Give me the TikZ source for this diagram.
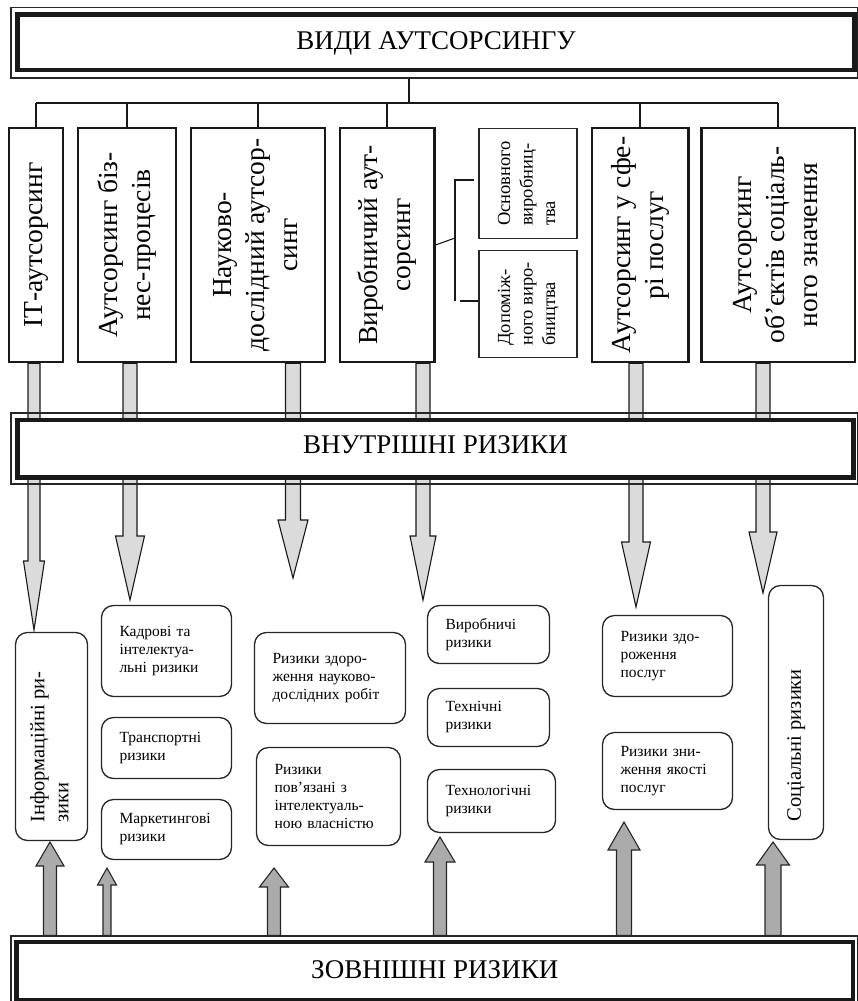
\documentclass[tikz,border=0pt]{standalone}
\usepackage{fontspec}
\setmainfont{Liberation Serif}
\usepackage{graphicx}
\usetikzlibrary{calc}
\pgfdeclarelayer{back}
\pgfsetlayers{back,main}
\newcommand\vtc[1]{\rotatebox{90}{\begin{tabular}{@{}c@{}}#1\end{tabular}}}
\newcommand\vtl[1]{\rotatebox{90}{\begin{tabular}{@{}l@{}}#1\end{tabular}}}
\newcommand\vmp[2]{\rotatebox{90}{\begin{minipage}{#1}\raggedright\strut #2\strut\end{minipage}}}
\newcommand\fatdown[5]{%
  \draw[downarr] let \p1=(#1), \p2=(#2) in
   (\x2-#4,\y1) -- (\x2-#4,\y2+#3) -- (\x2-#5,\y2+#3) -- (\x2,\y2) --
   (\x2+#5,\y2+#3) -- (\x2+#4,\y2+#3) -- (\x2+#4,\y1) -- cycle;}
\newcommand\fatup[5]{%
  \draw[uparr] let \p1=(#1), \p2=(#2) in
   (\x2-#4,\y1) -- (\x2-#4,\y2-#3) -- (\x2-#5,\y2-#3) -- (\x2,\y2) --
   (\x2+#5,\y2-#3) -- (\x2+#4,\y2-#3) -- (\x2+#4,\y1) -- cycle;}
\begin{document}
\begin{tikzpicture}[x=1pt,y=-1pt,
  thickbox/.style={draw=black!90, line width=4.5pt, fill=white, inner sep=0pt,
     font=\fontsize{27}{31}\selectfont, text height=18pt},
  thinframe/.style={draw=black!85, line width=1.2pt, inner sep=0pt},
  typebox/.style={draw=black!90, line width=2.5pt, fill=white, inner sep=0pt,
     font=\fontsize{27.5}{33}\selectfont},
  subbox/.style={draw=black!85, line width=1.5pt, fill=white, inner sep=0pt,
     font=\fontsize{18.5}{22.5}\selectfont},
  riskbox/.style={draw=black!85, line width=1.3pt, rounded corners=12pt, fill=white,
     inner xsep=18pt, inner ysep=0pt, align=left, font=\fontsize{15.5}{18}\selectfont},
  vriskbox/.style={draw=black!85, line width=1.3pt, rounded corners=12pt, fill=white,
     inner sep=0pt, font=\fontsize{20.5}{24}\selectfont},
  tree/.style={draw=black!90, line width=1.1pt},
  downarr/.style={draw=black!90, line width=1.1pt, fill=gray!28, line join=miter},
  uparr/.style={draw=black!85, line width=1.1pt, fill=gray!66, line join=miter}
]
\useasboundingbox (0,0) rectangle (858,1001);

% ---- title
\node[thinframe, minimum width=846.5, minimum height=70.5] (titleF) at (434.25,42.75) {};
\node[thickbox, minimum width=837, minimum height=55.5, text depth=4pt] (title) at (436,42.25) {ВИДИ АУТСОРСИНГУ};

% ---- types of outsourcing
\node[typebox, minimum width=54,   minimum height=234] (tIT) at (36,245)  {\vtc{ІТ-аутсорсинг}};
\node[typebox, minimum width=98,   minimum height=234] (tBP) at (127,245) {\vtc{Аутсорсинг біз-\\нес-процесів}};
\node[typebox, minimum width=134,  minimum height=234] (tND) at (258,245) {\vtc{Науково-\\дослідний аутсор-\\синг}};
\node[typebox, minimum width=94.5, minimum height=234] (tVY) at (387,245) {\vtc{Виробничий аут-\\сорсинг}};
\node[typebox, minimum width=96.5, minimum height=234] (tSF) at (640,245) {\vtc{Аутсорсинг у сфе-\\рі послуг}};
\node[typebox, minimum width=153.5,minimum height=234] (tSO) at (778,245) {\vtc{Аутсорсинг\\об’єктів соціаль-\\ного значення}};

\node[subbox, minimum width=98, minimum height=110] (sOS) at (528,183.5) {\vtl{Основного\\виробниц-\\тва}};
\node[subbox, minimum width=98, minimum height=107] (sDP) at (528,304)   {\vtl{Допоміж-\\ного виро-\\бництва}};

% ---- tree from the title
\coordinate (tj) at (409,103);
\draw[tree] (tj |- titleF.south) -- (tj);
\draw[tree] (tIT.north |- tj) -- (tSO.north |- tj);
\foreach \n in {tIT,tBP,tND,tVY,tSF,tSO} \draw[tree] (\n.north |- tj) -- (\n.north);

% ---- bracket to the sub-boxes
\coordinate (bs) at (434.5,245);
\coordinate (bk) at (455,238);
\coordinate (bt) at (455,180);
\coordinate (bb) at (455,301);
\coordinate (bte) at (474,180);
\coordinate (bbs) at (460,301);
\draw[tree] (tVY.east |- bs) -- (bk);
\draw[tree] (bte) -- (bt) -- (bb);
\draw[tree] (bbs) -- (sDP.west |- bbs);

% ---- arrow tips
\coordinate (dIT) at (34,630);
\coordinate (dBP) at (130,600);
\coordinate (dND) at (293,578);
\coordinate (dVY) at (423,600);
\coordinate (dSF) at (636,607);
\coordinate (dSO) at (763,593);
\coordinate (uIT) at (50,842);
\coordinate (uBP) at (107,868);
\coordinate (uND) at (274,868);
\coordinate (uVY) at (440,837);
\coordinate (uSF) at (624,822);
\coordinate (uSO) at (773,842);

% ---- internal risks
\node[thinframe, minimum width=846.5, minimum height=71] (midF) at (434.25,448.5) {};
\node[thickbox, minimum width=836, minimum height=57.5, text depth=9.5pt] (mid) at (435.5,448.75) {ВНУТРІШНІ РИЗИКИ};

% ---- risk boxes
\node[vriskbox, minimum width=72, minimum height=208] (rIN) at (51.5,736.5) {\vmp{172pt}{Інформаційні ри-\\зики}};
\node[riskbox, text width=94,  minimum height=91] (rKA) at (166.5,651)   {Кадрові та\\інтелектуа-\\льні ризики};
\node[riskbox, text width=94,  minimum height=61] (rTR) at (166.5,748)   {Транспортні\\ризики};
\node[riskbox, text width=94,  minimum height=60] (rMA) at (166.5,829.5) {Маркетингові\\ризики};
\node[riskbox, text width=115, minimum height=91] (rZN) at (330,678)     {Ризики здоро-\\ження науково-\\дослідних робіт};
\node[riskbox, text width=108, minimum height=98] (rPO) at (328.5,796.5) {Ризики\\пов’язані з\\інтелектуаль-\\ною власністю};
\node[riskbox, text width=86,  minimum height=58] (rVY) at (488.5,634.5) {Виробничі\\ризики};
\node[riskbox, text width=86,  minimum height=58] (rTE) at (488.5,717.5) {Технічні\\ризики};
\node[riskbox, text width=92,  minimum height=63] (rTL) at (491.5,801)   {Технологічні\\ризики};
\node[riskbox, text width=94,  minimum height=81] (rZP) at (667.5,656)   {Ризики здо-\\роження\\послуг};
\node[riskbox, text width=94,  minimum height=77] (rZY) at (667.5,771)   {Ризики зни-\\ження якості\\послуг};
\node[vriskbox, minimum width=55, minimum height=254] (rSO) at (796,712.5) {\vmp{218pt}{Соціальні ризики}};

% ---- external risks
\node[thinframe, minimum width=846.5, minimum height=74] (botF) at (434.25,973) {};
\node[thickbox, minimum width=836.5, minimum height=58, text depth=4pt] (bot) at (434.75,971) {ЗОВНІШНІ РИЗИКИ};

% ---- arrows
\begin{pgfonlayer}{back}
\fatdown{dIT |- tIT.south}{dIT}{69pt}{6pt}{10.5pt}
\fatdown{dBP |- tBP.south}{dBP}{64pt}{7pt}{14.5pt}
\fatdown{dND |- tND.south}{dND}{58pt}{7.5pt}{15pt}
\fatdown{dVY |- tVY.south}{dVY}{64pt}{7pt}{13pt}
\fatdown{dSF |- tSF.south}{dSF}{65pt}{7pt}{14.5pt}
\fatdown{dSO |- tSO.south}{dSO}{61pt}{7pt}{14pt}
\fatup{uIT |- botF.north}{uIT}{24pt}{6.5pt}{14pt}
\fatup{uBP |- botF.north}{uBP}{17pt}{4pt}{9.5pt}
\fatup{uND |- botF.north}{uND}{19pt}{6.5pt}{14.5pt}
\fatup{uVY |- botF.north}{uVY}{25pt}{6.5pt}{15pt}
\fatup{uSF |- botF.north}{uSF}{28pt}{7.5pt}{16pt}
\fatup{uSO |- botF.north}{uSO}{23pt}{8pt}{16.5pt}
\end{pgfonlayer}
\end{tikzpicture}
\end{document}
